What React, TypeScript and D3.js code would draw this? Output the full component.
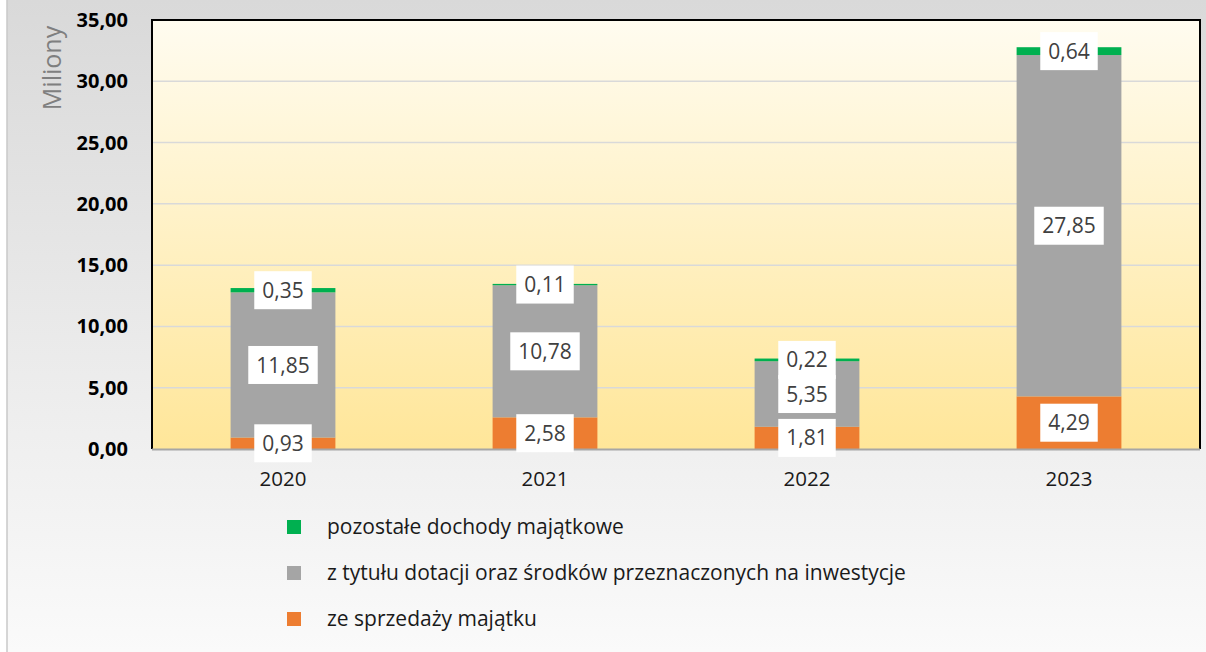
import { useEffect, useRef } from "react";
import * as d3 from "d3";

const YEARS = ["2020", "2021", "2022", "2023"];
const SPRZEDAZ = [0.93, 2.58, 1.81, 4.29];
const DOTACJE = [11.85, 10.78, 5.35, 27.85];
const POZOSTALE = [0.35, 0.11, 0.22, 0.64];
const Y_TICKS = [0, 5, 10, 15, 20, 25, 30, 35];

const SERIES = [
  { key: "sprzedaz", label: "ze sprzedaży majątku", color: "#ed7d31", values: SPRZEDAZ },
  { key: "dotacje", label: "z tytułu dotacji oraz środków przeznaczonych na inwestycje", color: "#a5a5a5", values: DOTACJE },
  { key: "pozostale", label: "pozostałe dochody majątkowe", color: "#00b050", values: POZOSTALE },
];

const fmt = (v: number) => v.toFixed(2).replace(".", ",");
const FONT = "'Open Sans', 'Noto Sans', sans-serif";

export default function App() {
  const ref = useRef<SVGSVGElement>(null);

  useEffect(() => {
    if (!ref.current) return;
    const W = 1206, H = 652;
    const m = { top: 20, right: 6, bottom: 203, left: 152 };
    const iW = W - m.left - m.right;
    const iH = H - m.top - m.bottom;

    const root = d3.select(ref.current);
    root.selectAll("*").remove();

    const defs = root.append("defs");
    const bg = defs.append("linearGradient").attr("id", "bgGrad").attr("x1", 0).attr("y1", 0).attr("x2", 0).attr("y2", 1);
    bg.append("stop").attr("offset", "0%").attr("stop-color", "#d9d9d9");
    bg.append("stop").attr("offset", "100%").attr("stop-color", "#fafafa");
    const pg = defs.append("linearGradient").attr("id", "plotGrad").attr("x1", 0).attr("y1", 0).attr("x2", 0).attr("y2", 1);
    pg.append("stop").attr("offset", "0%").attr("stop-color", "#fffcf0");
    pg.append("stop").attr("offset", "100%").attr("stop-color", "#ffe699");

    // tło wykresu
    root.append("rect").attr("width", W).attr("height", H).attr("fill", "#fff");
    root.append("rect").attr("x", 7).attr("y", 0).attr("width", W - 7).attr("height", H).attr("fill", "url(#bgGrad)");
    root.append("line").attr("x1", 7).attr("x2", 7).attr("y1", 0).attr("y2", H).attr("stroke", "#c9c9c9").attr("stroke-width", 1.5);

    const svg = root.append("g").attr("transform", `translate(${m.left},${m.top})`);

    const x = d3.scaleBand().domain(YEARS).range([0, iW]).paddingInner(0.6).paddingOuter(0.3);
    const y = d3.scaleLinear().domain([0, 35]).range([iH, 0]);

    svg.append("rect").attr("width", iW).attr("height", iH).attr("fill", "url(#plotGrad)");

    // siatka
    svg.selectAll(".grid")
      .data(Y_TICKS.filter(t => t > 0 && t < 35))
      .join("line")
      .attr("x1", 0).attr("x2", iW)
      .attr("y1", d => y(d)).attr("y2", d => y(d))
      .attr("stroke", "#d9d9d9").attr("stroke-width", 1.5);

    // słupki
    const stack = d3.stack<number>()
      .keys(SERIES.map((_, i) => String(i)))
      .value((i, k) => SERIES[+k].values[i]);
    const stacked = stack(YEARS.map((_, i) => i));

    stacked.forEach((layer, si) => {
      svg.selectAll(`.bar-${si}`)
        .data(layer)
        .join("rect")
        .attr("x", (_, i) => x(YEARS[i])!)
        .attr("width", x.bandwidth())
        .attr("y", d => y(d[1]))
        .attr("height", d => y(d[0]) - y(d[1]))
        .attr("fill", SERIES[si].color);
    });

    // ramka
    svg.append("path")
      .attr("d", `M0,${iH}V0H${iW}V${iH}`)
      .attr("fill", "none").attr("stroke", "#000").attr("stroke-width", 2);
    svg.append("line")
      .attr("x1", 0).attr("x2", iW).attr("y1", iH + 0.5).attr("y2", iH + 0.5)
      .attr("stroke", "#a6a6a6").attr("stroke-width", 2);

    // etykiety danych
    const labels: { cx: number; cy: number; text: string }[] = [];
    stacked.forEach(layer => {
      layer.forEach((d, i) => {
        labels.push({ cx: x(YEARS[i])! + x.bandwidth() / 2, cy: y((d[0] + d[1]) / 2), text: fmt(d[1] - d[0]) });
      });
    });
    const boxes = svg.append("g");
    const texts = svg.append("g");
    labels.forEach(l => {
      const t = texts.append("text")
        .attr("x", l.cx).attr("y", l.cy)
        .attr("text-anchor", "middle").attr("dy", "0.36em")
        .attr("font-family", FONT).attr("font-size", 21)
        .attr("fill", "#404040")
        .text(l.text);
      const w = (t.node() as SVGTextElement).getComputedTextLength() + 16;
      boxes.append("rect")
        .attr("x", l.cx - w / 2).attr("y", l.cy - 19)
        .attr("width", w).attr("height", 38)
        .attr("fill", "#fff");
    });

    // oś Y
    svg.selectAll(".ytick")
      .data(Y_TICKS)
      .join("text")
      .attr("x", -24).attr("y", d => y(d))
      .attr("dy", "0.35em").attr("text-anchor", "end")
      .attr("font-family", FONT).attr("font-size", 20).attr("font-weight", 700)
      .attr("fill", "#000")
      .text(d => fmt(d));

    root.append("text")
      .attr("transform", "translate(61,68) rotate(-90)")
      .attr("text-anchor", "middle")
      .attr("font-family", FONT).attr("font-size", 25)
      .attr("fill", "#7f7f7f")
      .text("Miliony");

    // oś X
    svg.selectAll(".xtick")
      .data(YEARS)
      .join("text")
      .attr("x", d => x(d)! + x.bandwidth() / 2).attr("y", iH + 30)
      .attr("dy", "0.35em").attr("text-anchor", "middle")
      .attr("font-family", FONT).attr("font-size", 20.5)
      .attr("fill", "#1a1a1a")
      .text(d => d);

    // legenda
    const legend = [...SERIES].reverse();
    const lg = root.append("g").attr("transform", "translate(287,527)");
    legend.forEach((s, i) => {
      lg.append("rect").attr("x", 0).attr("y", i * 46 - 7).attr("width", 14).attr("height", 14).attr("fill", s.color);
      lg.append("text")
        .attr("x", 40).attr("y", i * 46).attr("dy", "0.35em")
        .attr("font-family", FONT).attr("font-size", 21)
        .attr("fill", "#1a1a1a")
        .text(s.label);
    });
  }, []);

  return (
    <svg ref={ref} width={1206} height={652} style={{ position: "absolute", left: 0, top: 0, display: "block" }} />
  );
}
